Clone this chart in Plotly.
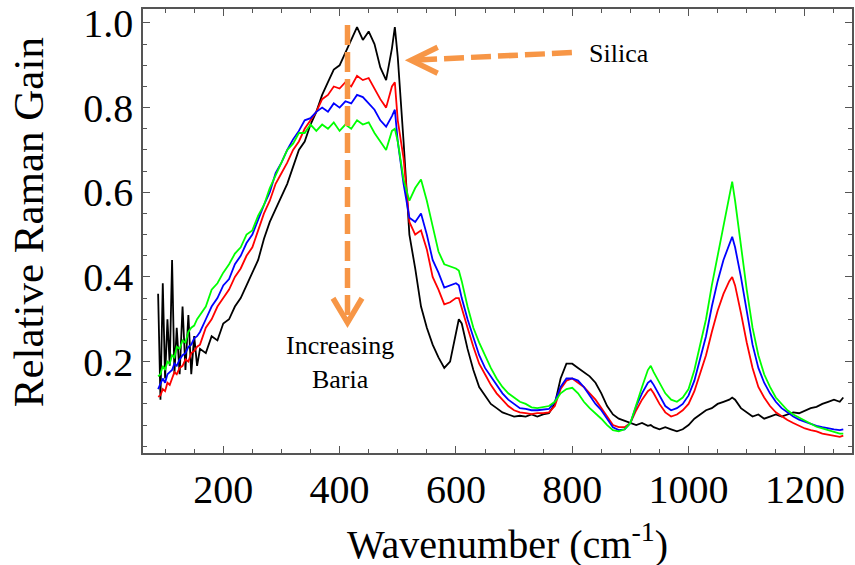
import plotly.graph_objects as go

# Wavenumber grid (cm^-1)
wavenumber = [88, 92, 96, 100, 104, 108, 112, 116, 120, 125, 130, 135, 140, 145, 150, 155, 160,
              170, 180, 190, 200, 210, 220, 230, 240, 250, 260, 270, 280, 290, 300, 310, 320, 330,
              340, 350, 360, 370, 380, 390, 400, 410, 420, 430, 440, 450, 460, 470, 480, 490, 495,
              500, 510, 520, 530, 540, 550, 560, 570, 580, 590, 600, 605, 610, 620, 630, 640, 650,
              660, 670, 680, 690, 700, 710, 720, 730, 740, 750, 760, 770, 780, 790, 800, 810, 820,
              830, 840, 850, 860, 870, 880, 890, 900, 910, 920, 930, 935, 940, 950, 960, 970, 980,
              990, 1000, 1010, 1020, 1030, 1040, 1050, 1060, 1070, 1075, 1080, 1090, 1100, 1110,
              1120, 1130, 1140, 1150, 1160, 1170, 1180, 1190, 1200, 1210, 1220, 1230, 1240, 1250,
              1260, 1266]

silica = [0.36, 0.11, 0.385, 0.16, 0.30, 0.19, 0.44, 0.17, 0.28, 0.17, 0.33, 0.18, 0.31, 0.17, 0.26, 0.19, 0.23,
          0.22, 0.26, 0.25, 0.29, 0.30, 0.33, 0.35, 0.38, 0.41, 0.44, 0.49, 0.53, 0.56, 0.59, 0.62, 0.66, 0.70,
          0.72, 0.76, 0.79, 0.83, 0.86, 0.89, 0.90, 0.93, 0.96, 0.99, 0.96, 0.98, 0.95, 0.895, 0.865, 0.94, 0.99,
          0.92, 0.72, 0.50, 0.42, 0.33, 0.28, 0.24, 0.21, 0.185, 0.20, 0.27, 0.30, 0.29, 0.23, 0.18, 0.14, 0.12,
          0.10, 0.09, 0.08, 0.075, 0.07, 0.072, 0.07, 0.075, 0.07, 0.075, 0.078, 0.10, 0.16, 0.195, 0.195, 0.185, 0.175,
          0.165, 0.15, 0.125, 0.095, 0.075, 0.065, 0.06, 0.055, 0.05, 0.055, 0.048, 0.05, 0.045, 0.04, 0.045, 0.04, 0.035,
          0.04, 0.05, 0.065, 0.075, 0.085, 0.09, 0.10, 0.105, 0.11, 0.115, 0.11, 0.09, 0.08, 0.07,
          0.075, 0.065, 0.07, 0.075, 0.07, 0.075, 0.08, 0.078, 0.085, 0.09, 0.093, 0.10, 0.105, 0.11,
          0.105, 0.115]

baria_low = [0.117, 0.12, 0.135, 0.13, 0.15, 0.145, 0.16, 0.175, 0.17, 0.185, 0.19, 0.205, 0.20, 0.22, 0.225, 0.235, 0.24,
             0.28, 0.30, 0.33, 0.35, 0.37, 0.40, 0.42, 0.45, 0.47, 0.51, 0.55, 0.58, 0.62, 0.645, 0.67, 0.70, 0.72,
             0.75, 0.77, 0.79, 0.82, 0.83, 0.85, 0.845, 0.86, 0.85, 0.875, 0.865, 0.87, 0.845, 0.82, 0.80, 0.85, 0.86,
             0.77, 0.68, 0.53, 0.50, 0.51, 0.465, 0.40, 0.37, 0.335, 0.34, 0.35, 0.35, 0.325, 0.28, 0.235, 0.195, 0.17,
             0.145, 0.125, 0.11, 0.095, 0.085, 0.08, 0.078, 0.076, 0.078, 0.078, 0.08, 0.095, 0.135, 0.155, 0.16, 0.15, 0.14,
             0.125, 0.11, 0.09, 0.07, 0.05, 0.045, 0.045, 0.055, 0.085, 0.11, 0.13, 0.135, 0.125, 0.10, 0.08, 0.07, 0.075,
             0.085, 0.10, 0.13, 0.175, 0.215, 0.27, 0.32, 0.36, 0.39, 0.40, 0.38, 0.315, 0.245, 0.185,
             0.14, 0.115, 0.095, 0.08, 0.07, 0.062, 0.055, 0.048, 0.042, 0.038, 0.035, 0.03, 0.027, 0.025,
             0.022, 0.025]

baria_mid = [0.135, 0.15, 0.16, 0.15, 0.17, 0.175, 0.18, 0.195, 0.19, 0.205, 0.215, 0.22, 0.235, 0.24, 0.255, 0.26, 0.27,
             0.30, 0.33, 0.35, 0.38, 0.395, 0.43, 0.45, 0.48, 0.50, 0.535, 0.57, 0.60, 0.645, 0.67, 0.70, 0.725, 0.745,
             0.77, 0.775, 0.79, 0.80, 0.79, 0.81, 0.80, 0.815, 0.81, 0.83, 0.825, 0.81, 0.795, 0.77, 0.755, 0.78, 0.795,
             0.72, 0.62, 0.54, 0.53, 0.55, 0.50, 0.44, 0.41, 0.375, 0.38, 0.385, 0.38, 0.35, 0.30, 0.255, 0.215, 0.185,
             0.165, 0.145, 0.125, 0.11, 0.10, 0.09, 0.088, 0.085, 0.085, 0.086, 0.088, 0.105, 0.14, 0.16, 0.16, 0.155, 0.14,
             0.12, 0.10, 0.085, 0.065, 0.045, 0.038, 0.04, 0.055, 0.095, 0.125, 0.15, 0.155, 0.145, 0.12, 0.095, 0.085, 0.09,
             0.10, 0.12, 0.155, 0.205, 0.26, 0.33, 0.39, 0.44, 0.48, 0.495, 0.47, 0.40, 0.32, 0.24,
             0.185, 0.15, 0.125, 0.105, 0.09, 0.08, 0.07, 0.063, 0.058, 0.052, 0.048, 0.045, 0.042, 0.04,
             0.038, 0.04]

baria_high = [0.165, 0.17, 0.19, 0.18, 0.20, 0.195, 0.215, 0.21, 0.235, 0.23, 0.25, 0.245, 0.27, 0.28, 0.285, 0.30, 0.31,
              0.33, 0.37, 0.385, 0.41, 0.43, 0.455, 0.47, 0.50, 0.51, 0.545, 0.57, 0.61, 0.64, 0.67, 0.70, 0.715, 0.74,
              0.74, 0.76, 0.745, 0.76, 0.75, 0.765, 0.745, 0.76, 0.75, 0.77, 0.76, 0.765, 0.74, 0.72, 0.70, 0.745, 0.75,
              0.72, 0.63, 0.58, 0.61, 0.63, 0.58, 0.52, 0.46, 0.43, 0.425, 0.42, 0.415, 0.39, 0.33, 0.28, 0.245, 0.215,
              0.185, 0.16, 0.14, 0.125, 0.115, 0.105, 0.10, 0.092, 0.09, 0.092, 0.095, 0.105, 0.125, 0.135, 0.138, 0.125, 0.105,
              0.09, 0.078, 0.065, 0.05, 0.038, 0.035, 0.04, 0.055, 0.10, 0.14, 0.18, 0.19, 0.175, 0.15, 0.125, 0.11, 0.105,
              0.115, 0.135, 0.18, 0.24, 0.30, 0.38, 0.45, 0.52, 0.59, 0.625, 0.58, 0.47, 0.37, 0.28,
              0.215, 0.17, 0.14, 0.115, 0.10, 0.085, 0.075, 0.068, 0.06, 0.052, 0.046, 0.042, 0.038, 0.035,
              0.03, 0.03]

series = [("Silica", silica, "#000000"),
          ("Low baria", baria_low, "#FF0000"),
          ("Mid baria", baria_mid, "#0000FF"),
          ("High baria", baria_high, "#00FF00")]

x_tickvals = [200, 400, 600, 800, 1000, 1200]
y_tickvals = [0.2, 0.4, 0.6, 0.8, 1.0]
y_ticktext = ["0.2", "0.4", "0.6", "0.8", "1.0"]

x_title = "Wavenumber (cm<sup>-1</sup>)"
y_title = "Relative Raman Gain"

# Annotation geometry (data units)
baria_arrow_x = 413.6
baria_arrow_top = 0.995
baria_arrow_tip = 0.292
silica_arrow_tail = (799.4, 0.930)
silica_arrow_tip = (522.9, 0.912)

ORANGE = "#F79646"
FONT = "Liberation Serif"

fig = go.Figure()
for name, vals, col in series:
    fig.add_trace(go.Scatter(x=wavenumber, y=vals, mode="lines", name=name,
                             line=dict(color=col, width=1.8)))

dash = "20px,7px"
fig.add_shape(type="line", x0=baria_arrow_x, x1=baria_arrow_x, y0=baria_arrow_top, y1=baria_arrow_tip,
              xref="x", yref="y", line=dict(color=ORANGE, width=5.5, dash=dash))
fig.add_shape(type="line", x0=silica_arrow_tail[0], y0=silica_arrow_tail[1],
              x1=silica_arrow_tip[0], y1=silica_arrow_tip[1],
              xref="x", yref="y", line=dict(color=ORANGE, width=5.5, dash=dash))
# chevron heads
fig.add_shape(type="path", xref="x", yref="y", xsizemode="pixel", ysizemode="pixel",
              xanchor=baria_arrow_x, yanchor=baria_arrow_tip,
              path="M -14.5,24.4 L 0,0 L 14.5,24.4", line=dict(color=ORANGE, width=5.5))
fig.add_shape(type="path", xref="x", yref="y", xsizemode="pixel", ysizemode="pixel",
              xanchor=silica_arrow_tip[0], yanchor=silica_arrow_tip[1],
              path="M 26.6,13 L 0,0 L 26.6,-13", line=dict(color=ORANGE, width=5.5))

fig.add_annotation(x=880, y=0.928, xref="x", yref="y", text="Silica", showarrow=False,
                   font=dict(family=FONT, size=26, color="black"))
fig.add_annotation(x=401, y=0.197, xref="x", yref="y", text="Increasing<br>Baria", showarrow=False,
                   font=dict(family=FONT, size=26, color="black"))

# axis titles
fig.add_annotation(x=0.514, y=-0.199, xref="paper", yref="paper", text=x_title, showarrow=False,
                   xanchor="center", yanchor="middle", font=dict(family=FONT, size=40, color="black"))
fig.add_annotation(x=-0.1612, y=0.519, xref="paper", yref="paper", text=y_title, showarrow=False,
                   textangle=-90, xanchor="center", yanchor="middle",
                   font=dict(family=FONT, size=43, color="black"))

axis_common = dict(showline=True, linecolor="#555555", linewidth=1.5, mirror="ticks",
                   ticks="inside", tickcolor="#555555", tickwidth=1.2, ticklen=7,
                   showgrid=False, zeroline=False,
                   tickfont=dict(family=FONT, size=40, color="black"))

fig.update_xaxes(range=[62, 1281], tickvals=x_tickvals,
                 minor=dict(dtick=50, tick0=0, ticks="inside", ticklen=4, tickcolor="#555555", showgrid=False),
                 **axis_common)
fig.update_yaxes(range=[-0.016, 1.033], tickvals=y_tickvals, ticktext=y_ticktext,
                 minor=dict(dtick=0.05, tick0=0, ticks="inside", ticklen=4, tickcolor="#555555", showgrid=False),
                 **axis_common)

fig.update_layout(width=855, height=565, margin=dict(l=143, r=1, t=9, b=112),
                  plot_bgcolor="white", paper_bgcolor="white", showlegend=False)

fig.write_html("out.html")
